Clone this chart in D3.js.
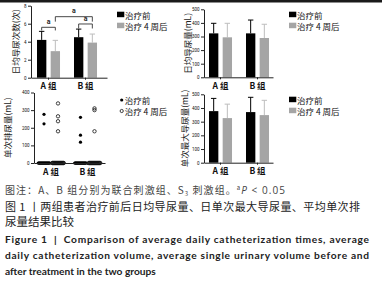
<!DOCTYPE html>
<html lang="zh">
<head>
<meta charset="UTF-8">
<title>Figure 1</title>
<script src="https://cdn.jsdelivr.net/npm/d3@7"></script>
<style>
    body { margin: 0; background: #fff; }
    svg { display: block; font-family: "Noto Sans CJK SC", "Noto Sans", sans-serif; }
</style>
</head>
<body>
<div id="graphDiv"></div>
<script>
// groups and series
var groups = ["A 组", "B 组"]
var series = ["治疗前", "治疗 4 周后"]

// daily catheterization times (mean, sd) [group][series]
var timesMean = [[4.2, 2.95], [4.5, 3.9]]
var timesSd = [[0.95, 1.2], [0.9, 0.95]]
var timesTicks = [0, 2, 4, 6, 8]

// daily catheterization volume (mL)
var volMean = [[323, 294], [323, 289]]
var volSd = [[74, 103], [98, 101]]

// max single catheterization volume (mL)
var maxMean = [[377, 326], [370, 348]]
var maxSd = [[93, 102], [108, 108]]
var volTicks = [0, 100, 200, 300, 400, 500]

// single voiding volume, non-zero points [series][...]
var singleA = [[276, 222], [338, 265, 237, 180]]
var singleB = [[259, 158, 118], [310, 300, 180]]
var zeroCount = 24
var singleTicks = [0, 100, 200, 300, 400]

// significance marks in first panel: [group, series] pairs
var brackets = [
    { a: [0, 0], b: [0, 1], level: 5.6, drop: 0.35 },
    { a: [1, 0], b: [1, 1], level: 5.97, drop: 0.5 },
    { a: [0, 1], b: [1, 1], level: 6.78, drop: 0.55 }
]

var barFill = ["#000000", "#a5a5a5"]
var errColor = ["#000000", "#bdbdbd"]

var svg = d3.select('#graphDiv')
    .append('svg')
    .attr('width', 382)
    .attr('height', 282)

// top rule
svg.append('rect').attr('x', 0).attr('y', 0).attr('width', 382).attr('height', 2.5).attr('fill', '#1a1a1a')

function drawAxes(g, x, y, ticks, label, labelX) {
    var yr = y.range()
    g.append('g')
        .attr('transform', 'translate(0,' + yr[0] + ')')
        .call(d3.axisBottom(x).tickSize(2).tickSizeOuter(0).tickPadding(3.5))
        .call(a => {
            a.attr('font-family', null).attr('font-size', null)
            a.select('.domain').attr('stroke', '#222')
            a.selectAll('line').attr('stroke', '#222')
            a.selectAll('text').attr('font-size', 8.5).attr('font-weight', 'bold').attr('fill', '#111')
        })
    g.append('g')
        .attr('transform', 'translate(' + x.range()[0] + ',0)')
        .call(d3.axisLeft(y).tickValues(ticks).tickSize(3).tickSizeOuter(0).tickPadding(1.5))
        .call(a => {
            a.attr('font-family', null).attr('font-size', null)
            a.select('.domain').attr('stroke', '#222')
            a.selectAll('line').attr('stroke', '#222')
            a.selectAll('text').attr('font-size', 4.5).attr('fill', '#111').attr('font-family', 'Roboto, sans-serif')
        })
    g.append('text')
        .attr('transform', 'translate(' + labelX + ',' + (yr[0] + yr[1]) / 2 + ') rotate(-90)')
        .attr('text-anchor', 'middle')
        .attr('dominant-baseline', 'central')
        .attr('font-size', 8.5)
        .attr('fill', '#222')
        .text(label)
}

function barPanel(o) {
    var g = svg.append('g')
    var x = d3.scaleBand().domain(groups).range(o.xRange)
        .paddingInner(0.378).paddingOuter(o.pOut).align(o.align)
    var inner = d3.scaleBand().domain(series).range([0, x.bandwidth()]).paddingInner(0.316)
    var y = d3.scaleLinear().domain([0, o.max]).range(o.yRange)

    var rows = []
    groups.forEach((gr, i) => series.forEach((s, j) => {
        rows.push({ group: gr, series: s, j: j, mean: o.mean[i][j], sd: o.sd[i][j] })
    }))
    var cx = d => x(d.group) + inner(d.series) + inner.bandwidth() / 2

    // error bars (upper only)
    var err = g.append('g').selectAll('g').data(rows).join('g')
    err.append('line')
        .attr('x1', cx).attr('x2', cx)
        .attr('y1', d => y(d.mean)).attr('y2', d => y(d.mean + d.sd))
        .attr('stroke', d => errColor[d.j]).attr('stroke-width', 1)
    err.append('line')
        .attr('x1', d => cx(d) - 2.7).attr('x2', d => cx(d) + 2.7)
        .attr('y1', d => y(d.mean + d.sd)).attr('y2', d => y(d.mean + d.sd))
        .attr('stroke', d => errColor[d.j]).attr('stroke-width', 1)

    g.append('g').selectAll('rect').data(rows).join('rect')
        .attr('x', d => x(d.group) + inner(d.series))
        .attr('y', d => y(d.mean))
        .attr('width', inner.bandwidth())
        .attr('height', d => y(0) - y(d.mean))
        .attr('fill', d => barFill[d.j])

    drawAxes(g, x, y, o.ticks, o.label, o.labelX)

    // legend
    var lg = g.append('g').selectAll('g').data(series).join('g')
        .attr('transform', (d, i) => 'translate(' + o.legend[0] + ',' + (o.legend[1] + i * 11) + ')')
    lg.append('rect').attr('width', 7.3).attr('height', 5.5).attr('fill', (d, i) => barFill[i])
    lg.append('text').attr('x', 8).attr('y', 2.9)
        .attr('dominant-baseline', 'central').attr('font-size', 8.5).attr('fill', '#111')
        .text(d => d)

    return { g: g, x: x, inner: inner, y: y }
}

// panel 1: daily times
var p1 = barPanel({
    xRange: [31, 107], pOut: 0.216, align: 0.375,
    yRange: [77.7, 5.7], max: 8, ticks: timesTicks,
    mean: timesMean, sd: timesSd,
    label: "日均导尿次数(次)", labelX: 15, legend: [117, 11.7]
})

// significance brackets
var bx = (k) => p1.x(groups[k[0]]) + p1.inner(series[k[1]]) + p1.inner.bandwidth() / 2
var br = p1.g.append('g').selectAll('g').data(brackets).join('g')
br.append('path')
    .attr('d', d => {
        var y0 = p1.y(d.level), y1 = p1.y(d.level - d.drop)
        return 'M' + bx(d.a) + ',' + y1 + 'V' + y0 + 'H' + bx(d.b) + 'V' + y1
    })
    .attr('fill', 'none').attr('stroke', '#333').attr('stroke-width', 0.9)
br.append('text')
    .attr('x', d => (bx(d.a) + bx(d.b)) / 2)
    .attr('y', d => p1.y(d.level) - 3.2)
    .attr('text-anchor', 'middle')
    .attr('font-size', 7).attr('font-weight', 'bold').attr('fill', '#2a2a2a')
    .attr('font-family', 'Roboto, sans-serif')
    .text('a')

// panel 2: daily volume
barPanel({
    xRange: [204, 273], pOut: 0.1215, align: 0.556,
    yRange: [77.3, 9.3], max: 500, ticks: volTicks,
    mean: volMean, sd: volSd,
    label: "日均导尿量(mL)", labelX: 187, legend: [289, 11.7]
})

// panel 4: max single volume
barPanel({
    xRange: [204, 273], pOut: 0.1215, align: 0.556,
    yRange: [162.7, 94.3], max: 500, ticks: volTicks,
    mean: maxMean, sd: maxSd,
    label: "单次最大导尿量(mL)", labelX: 184, legend: [289, 96.7]
})

// panel 3: single voiding volume scatter
var g3 = svg.append('g')
var x3 = d3.scaleBand().domain(groups).range([34, 105]).paddingInner(0.37).paddingOuter(0.158).align(0.478)
var in3 = d3.scalePoint().domain(series).range([0, x3.bandwidth()]).padding(0.32)
var y3 = d3.scaleLinear().domain([0, 400]).range([163, 92.5])

var pts = []
;[singleA, singleB].forEach((grp, i) => grp.forEach((vals, j) => {
    d3.range(zeroCount).forEach(k => pts.push({ group: groups[i], series: series[j], j: j, v: 0, off: (k - (zeroCount - 1) / 2) * 0.5 }))
    vals.forEach(v => pts.push({ group: groups[i], series: series[j], j: j, v: v, off: 0 }))
}))

g3.append('g').selectAll('circle').data(pts).join('circle')
    .attr('cx', d => x3(d.group) + in3(d.series) + d.off)
    .attr('cy', d => y3(d.v))
    .attr('r', d => d.j === 0 ? 1.6 : 1.7)
    .attr('fill', d => d.j === 0 ? '#000' : 'none')
    .attr('stroke', d => d.j === 0 ? 'none' : '#111')
    .attr('stroke-width', 0.8)

drawAxes(g3, x3, y3, singleTicks, "单次排尿量(mL)", 7.3)

var lg3 = g3.append('g').selectAll('g').data(series).join('g')
    .attr('transform', (d, i) => 'translate(121.7,' + (100 + i * 11) + ')')
lg3.append('circle').attr('r', 1.6)
    .attr('fill', (d, i) => i === 0 ? '#000' : '#fff')
    .attr('stroke', (d, i) => i === 0 ? 'none' : '#111').attr('stroke-width', 0.8)
lg3.append('text').attr('x', 3).attr('y', 0.3)
    .attr('dominant-baseline', 'central').attr('font-size', 8.5).attr('fill', '#111')
    .text(d => d)

// caption
var cap = svg.append('g')
var l1 = cap.append('text').attr('x', 5).attr('y', 193.5).attr('font-size', 10).attr('fill', '#444')
    .attr('textLength', 280).attr('lengthAdjust', 'spacing')
l1.append('tspan').text('图注：A、B 组分别为联合刺激组、S')
l1.append('tspan').attr('font-size', 6).attr('dy', 2).text('3')
l1.append('tspan').attr('dy', -2).text(' 刺激组。')
l1.append('tspan').attr('font-size', 6).attr('dy', -3.5).text('a')
l1.append('tspan').attr('dy', 3.5).attr('font-style', 'italic').attr('font-family', '"Open Sans", sans-serif').text('P')
l1.append('tspan').attr('font-family', '"Open Sans", sans-serif').text(' < 0.05')

cap.append('text').attr('x', 5).attr('y', 211).attr('font-size', 11).attr('fill', '#222')
    .attr('textLength', 355).attr('lengthAdjust', 'spacing')
    .text('图 1 丨两组患者治疗前后日均导尿量、日单次最大导尿量、平均单次排')
cap.append('text').attr('x', 5).attr('y', 226).attr('font-size', 11.5).attr('fill', '#222')
    .text('尿量结果比较')

var en = [
    { t: 'Figure 1  |  Comparison of average daily catheterization times, average', y: 242.5, w: 364 },
    { t: 'daily catheterization volume, average single urinary volume before and', y: 258.5, w: 364 },
    { t: 'after treatment in the two groups', y: 274.5, w: null }
]
cap.selectAll('text.en').data(en).join('text')
    .attr('class', 'en')
    .attr('x', 5).attr('y', d => d.y)
    .attr('font-family', 'Lato, "Open Sans", sans-serif')
    .attr('font-weight', 'bold').attr('font-size', 10.2).attr('fill', '#222')
    .attr('textLength', d => d.w).attr('lengthAdjust', 'spacing')
    .attr('xml:space', 'preserve')
    .text(d => d.t)
</script>
</body>
</html>
